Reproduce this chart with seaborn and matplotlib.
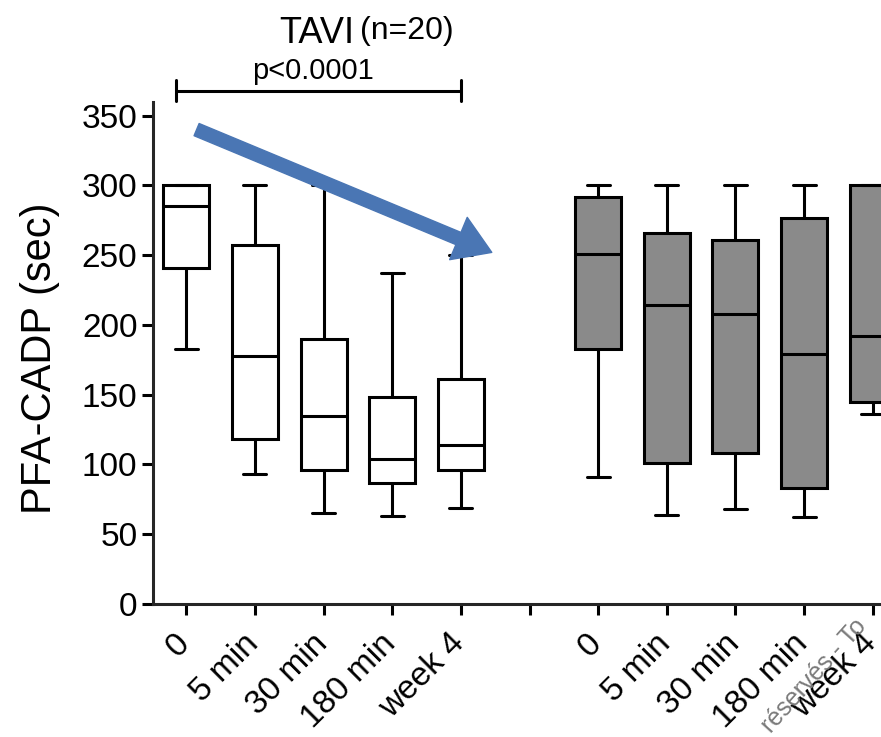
import numpy as np
import pandas as pd
import matplotlib
matplotlib.use("Agg")
import matplotlib.pyplot as plt
import matplotlib.transforms as mtransforms
import seaborn as sns

# Timepoints (same labels for both groups)
timepoints = ["0", "5 min", "30 min", "180 min", "week 4"]

# TAVI group (white boxes): whisker low, Q1, median, Q3, whisker high
tavi_low = [183, 93, 65, 63, 69]
tavi_q1 = [241, 118, 96, 87, 96]
tavi_med = [285, 178, 135, 104, 114]
tavi_q3 = [300, 257, 190, 148, 161]
tavi_high = [300, 300, 300, 237, 250]

# second group (grey boxes)
ctrl_low = [91, 64, 68, 62, 136]
ctrl_q1 = [183, 101, 108, 83, 145]
ctrl_med = [251, 214, 208, 179, 192]
ctrl_q3 = [292, 266, 261, 277, 300]
ctrl_high = [300, 300, 300, 300, 300]

tavi_pos = [0, 1, 2, 3, 4]
ctrl_pos = [6, 7, 8, 9, 10]

# long table: five values per box give exactly these quartiles / extremes
rows = []
for i in range(5):
    for v in (tavi_low[i], tavi_q1[i], tavi_med[i], tavi_q3[i], tavi_high[i]):
        rows.append({"pos": tavi_pos[i], "value": v, "group": "TAVI"})
    for v in (ctrl_low[i], ctrl_q1[i], ctrl_med[i], ctrl_q3[i], ctrl_high[i]):
        rows.append({"pos": ctrl_pos[i], "value": v, "group": "other"})
df = pd.DataFrame(rows)

sns.set_style("ticks")
plt.rcParams["font.family"] = ["Liberation Sans", "DejaVu Sans"]
plt.rcParams["text.color"] = "black"
plt.rcParams["axes.labelcolor"] = "black"
plt.rcParams["xtick.color"] = "black"
plt.rcParams["ytick.color"] = "black"

fig = plt.figure(figsize=(8.81, 7.37), dpi=100)
ax = fig.add_axes([0.1733, 0.1805, 0.8267, 0.6815])

sns.boxplot(data=df, x="pos", y="value", hue="group",
            palette={"TAVI": "white", "other": "#8a8a8a"},
            native_scale=True, dodge=False, width=0.67, whis=(0, 100),
            linecolor="black", linewidth=2.2, fliersize=0, legend=False, ax=ax)

ax.set_xlim(-0.49, 10.12)
ax.set_ylim(0, 360)
ax.set_yticks(np.arange(0, 351, 50))
ax.set_xticks(range(11))
ax.set_xticklabels(timepoints + [""] + timepoints, rotation=45,
                   ha="right", va="center", rotation_mode="anchor")
ax.tick_params(axis="both", direction="out", length=8, width=2.2, labelsize=24)
ax.tick_params(axis="y", pad=3)
ax.tick_params(axis="x", labelsize=24, pad=17)
# nudge x labels a little to the left
shift = mtransforms.ScaledTranslation(-1 / 100, 0, fig.dpi_scale_trans)
for lab in ax.get_xticklabels():
    lab.set_transform(lab.get_transform() + shift)
ax.set_xlabel("")
ax.set_ylabel("PFA-CADP (sec)", fontsize=30)
ax.yaxis.set_label_coords(-0.127, 0.49)

for s in ["top", "right"]:
    ax.spines[s].set_visible(False)
for s in ["left", "bottom"]:
    ax.spines[s].set_linewidth(2.2)

# significance bracket
yb = 368
ax.plot([-0.15, 4.0], [yb, yb], color="black", lw=2.2, clip_on=False)
ax.plot([-0.15, -0.15], [yb - 7.5, yb + 7.5], color="black", lw=2.2, clip_on=False)
ax.plot([4.0, 4.0], [yb - 7.5, yb + 7.5], color="black", lw=2.2, clip_on=False)
ax.text(1.84, 382, "p<0.0001", ha="center", va="center", fontsize=21)
ax.text(1.9, 409, "TAVI", ha="center", va="center", fontsize=26)
ax.text(2.53, 411, "(n=20)", ha="left", va="center", fontsize=23)

# blue arrow
ax.annotate("", xy=(4.45, 252), xytext=(0.15, 340),
            arrowprops=dict(arrowstyle="simple,head_length=2.6,head_width=3.3,tail_width=0.95",
                            color="#4a76b4", mutation_scale=10, shrinkA=0, shrinkB=0))

# watermark fragment over the x labels
fig.text(0.859, 0.006, "réservés - To", rotation=48, fontsize=18,
         color="#7a7a7a", ha="left", va="baseline")

fig.savefig("out.png", dpi=100)
